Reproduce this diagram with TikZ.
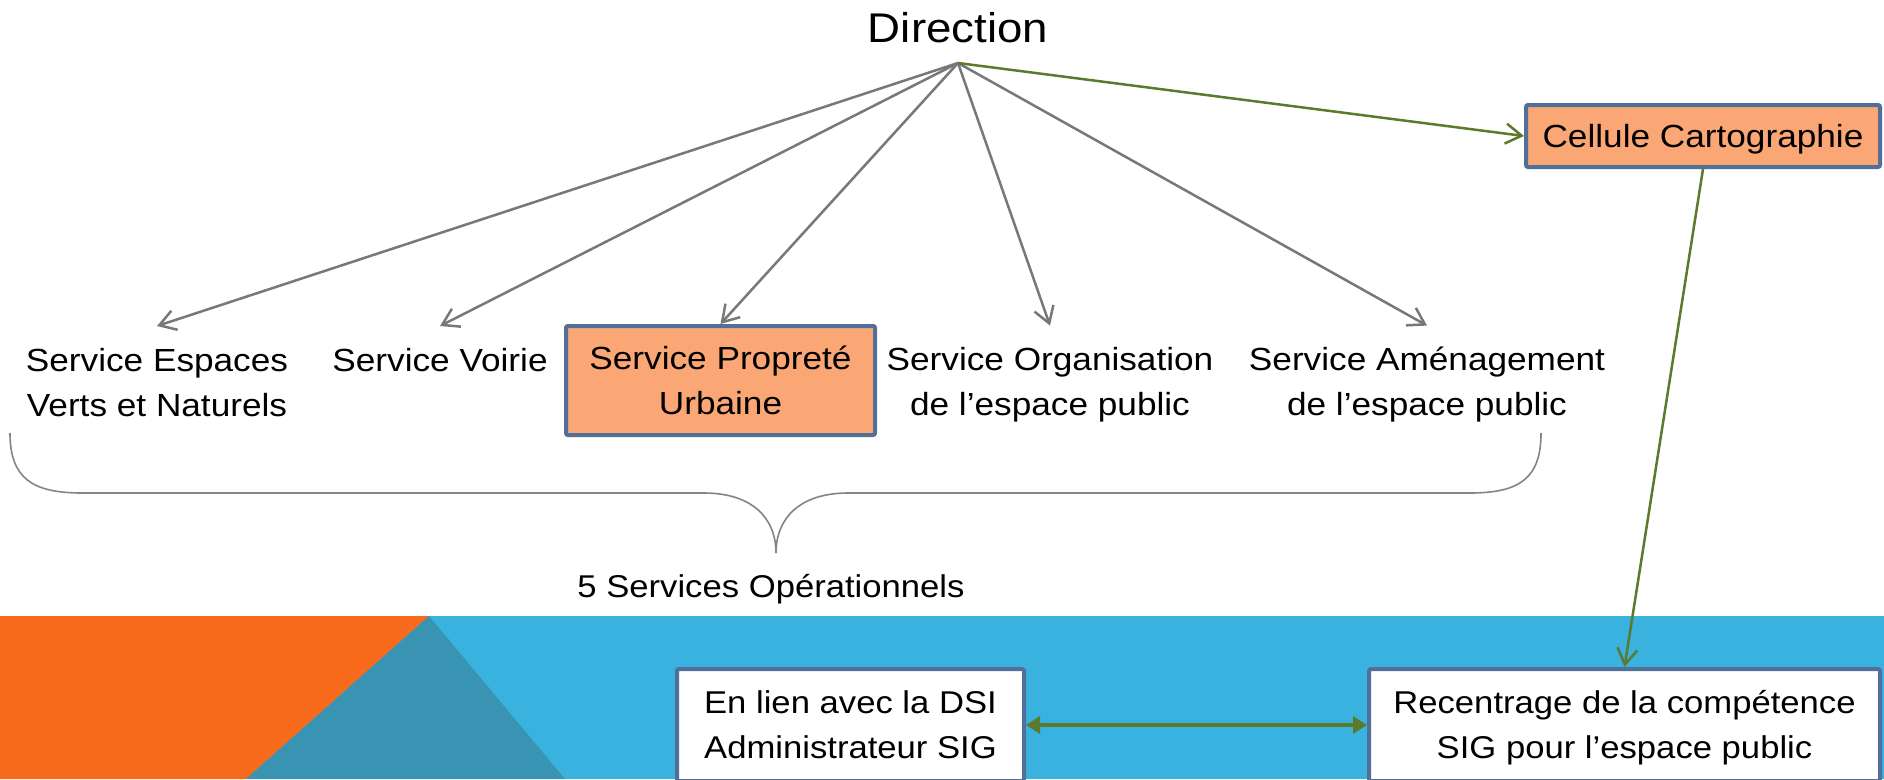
\documentclass[tikz,border=0pt]{standalone}
\usepackage{fontspec}
\setmainfont[FakeStretch=1.1]{Liberation Sans}
\usetikzlibrary{arrows.meta}
\definecolor{bordc}{HTML}{50709A}
\definecolor{orfill}{HTML}{FAA775}
\definecolor{arrgray}{HTML}{787878}
\definecolor{grn}{HTML}{5C7A2E}
\definecolor{bandor}{HTML}{F86A1C}
\definecolor{bandteal}{HTML}{3994B3}
\definecolor{bandblue}{HTML}{3AB2DF}
\newcommand{\vs}{\rule[-0.18em]{0pt}{1.08em}}
\begin{document}
\begin{tikzpicture}[x=1pt,y=-1pt,
  lbl/.style={font=\fontsize{32}{45}\selectfont, align=center, inner sep=0pt},
  obox/.style={draw=bordc, line width=4pt, fill=orfill, rounded corners=2pt, align=center, inner sep=0pt, font=\fontsize{32}{45}\selectfont},
  wbox/.style={draw=bordc, line width=4pt, fill=white, rounded corners=2pt, align=center, inner sep=0pt, font=\fontsize{31.5}{45}\selectfont},
  garrow/.style={draw=arrgray, line width=2.5pt, -{Straight Barb[length=16pt,width=20pt]}},
  grarrow/.style={draw=grn, line width=2.5pt, -{Straight Barb[length=16pt,width=20pt]}},
  bracel/.style={draw=arrgray!90, line width=1.6pt}
]
\useasboundingbox (0,0) rectangle (1884,779);
\clip (0,0) rectangle (1884,779);
\fill[white] (0,0) rectangle (1884,779);

% bottom band
\fill[bandblue] (0,616) rectangle (1884,779);
\fill[bandor] (0,616) -- (429,616) -- (246,779) -- (0,779) -- cycle;
\fill[bandteal] (429,616) -- (565,779) -- (246,779) -- cycle;

% nodes
\node[font=\fontsize{41.5}{48}\selectfont, inner sep=0pt, anchor=base] (dir) at (958,42) {Direction};
\coordinate (dsrc) at ([yshift=-21pt]dir.base);

\node[lbl] (sev) at (157,382) {\vs Service Espaces\\\vs Verts et Naturels};
\node[lbl] (svo) at (440,359.5) {\vs Service Voirie};
\node[obox, minimum width=309pt, minimum height=109pt] (spu) at (720.5,380.5) {\vs Service Propreté\\\vs Urbaine};
\node[lbl] (sor) at (1050,382) {\vs Service Organisation\\\vs de l’espace public};
\node[lbl] (sam) at (1427,382) {\vs Service Aménagement\\\vs de l’espace public};

\node[obox, minimum width=354pt, minimum height=62pt, font=\fontsize{32}{40}\selectfont] (cc) at (1703,136) {\vs Cellule Cartographie};

\node[wbox, minimum width=347pt, minimum height=112pt] (dsi) at (850.5,725) {\vs En lien avec la DSI\\\vs Administrateur SIG};
\node[wbox, minimum width=511pt, minimum height=112pt] (rec) at (1624.5,725) {\vs Recentrage de la compétence\\\vs SIG pour l’espace public};

\node[lbl, font=\fontsize{31.5}{40}\selectfont] (five) at (771,587) {\vs 5 Services Opérationnels};

% connectors
\draw[garrow] (dsrc) -- ([yshift=16pt]sev.north);
\draw[garrow] (dsrc) -- ([yshift=16pt]svo.north);
\draw[garrow] (dsrc) -- (spu.north);
\draw[garrow] (dsrc) -- ([yshift=16pt]sor.north);
\draw[garrow] (dsrc) -- ([yshift=16pt]sam.north);
\draw[grarrow] (dsrc) -- (cc.west);
\draw[grarrow] (cc.south) -- (rec.north);
\draw[draw=grn, line width=4pt, {Triangle[length=14pt,width=17pt]}-{Triangle[length=14pt,width=17pt]}] (dsi.east) -- (rec.west);

% brace
\draw[bracel] (10,433) .. controls (10,478) and (32,493) .. (82,493) -- (704,493)
  .. controls (752,493) and (776,518) .. (776,553)
  .. controls (776,518) and (800,493) .. (848,493) -- (1470,493)
  .. controls (1520,493) and (1541,478) .. (1541,433);
\end{tikzpicture}
\end{document}
